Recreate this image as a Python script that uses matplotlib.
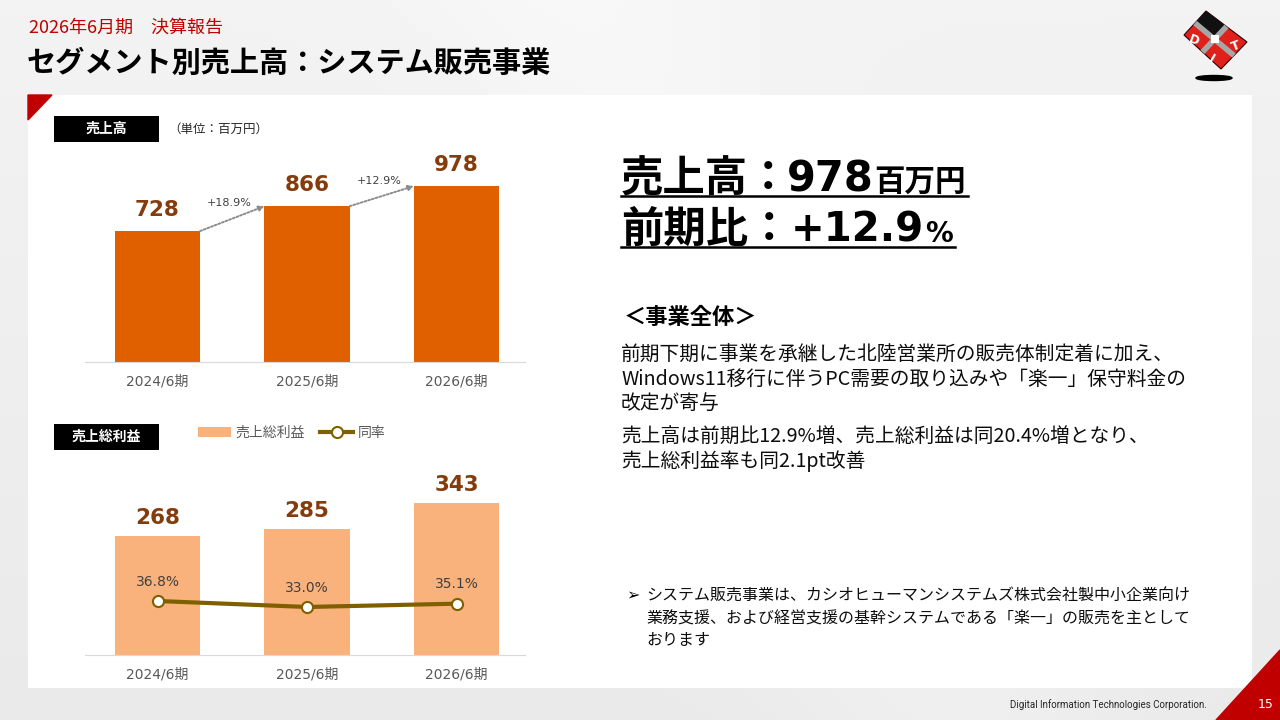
import matplotlib
matplotlib.use('Agg')
import matplotlib.pyplot as plt
import numpy as np
from matplotlib.patches import Rectangle, Polygon, Ellipse

plt.rcParams['font.family'] = ['Noto Sans CJK JP', 'DejaVu Sans']

# ---------------- data ----------------
categories = ['2024/6期', '2025/6期', '2026/6期']
sales = [728, 866, 978]
sales_growth = ['+18.9%', '+12.9%']
gross_profit = [268, 285, 343]
gross_margin = [36.8, 33.0, 35.1]

W, H = 1280, 720
NUMF = ['DejaVu Sans', 'Noto Sans CJK JP']
JP = ['Noto Sans CJK JP', 'DejaVu Sans']

fig = plt.figure(figsize=(12.8, 7.2), dpi=100)
bg = fig.add_axes([0, 0, 1, 1], zorder=0)
bg.set_xlim(0, W)
bg.set_ylim(H, 0)
bg.axis('off')

# background gradient
yy, xx = np.mgrid[0:1:90j, 0:1:160j]
g = 0.915 + 0.035 * (1 - yy) + 0.02 * np.exp(-((xx - 0.45 - 0.3 * yy) ** 2) / 0.02)
bg.imshow(g, cmap='gray', vmin=0, vmax=1, extent=[0, W, H, 0], aspect='auto', zorder=0)

# white panel + corner triangles
bg.add_patch(Rectangle((28, 95), 1224, 593, facecolor='white', edgecolor='none', zorder=1))
bg.add_patch(Polygon([(28, 95), (52, 95), (28, 120)], closed=True, color='#C00000', zorder=2))
bg.add_patch(Polygon([(1216, 720), (1280, 650), (1280, 720)], closed=True, color='#C00000', zorder=2))

# header
bg.text(29, 28, '2026年6月期　決算報告', color='#C00000', fontsize=13, va='center', ha='left', zorder=3)
bg.text(27, 63, 'セグメント別売上高：システム販売事業', color='black', fontsize=21,
        fontweight='bold', va='center', ha='left', zorder=3)

# footer
bg.text(1207, 705, 'Digital Information Technologies Corporation.', ha='right', va='center',
        fontsize=7, color='#262626', family=['Roboto', 'DejaVu Sans'], zorder=3)
bg.text(1266, 704, '15', ha='center', va='center', fontsize=9, color='white', zorder=3,
        family=['DejaVu Sans'])

# logo
corners = np.array([(1184, 35), (1206, 11), (1247, 42), (1221, 69)], dtype=float)
bg.add_patch(Polygon(corners, closed=True, facecolor='#E0201B', edgecolor='#300', lw=0.8, zorder=3))
c = corners.mean(axis=0)
m = [(corners[i] + corners[(i + 1) % 4]) / 2 for i in range(4)]
bg.add_patch(Polygon([corners[1], m[1], c, m[0]], closed=True, facecolor='#111111', zorder=4))
bg.plot([m[0][0], m[2][0]], [m[0][1], m[2][1]], color='#A6A6A6', lw=4, zorder=5, solid_capstyle='butt')
bg.plot([m[1][0], m[3][0]], [m[1][1], m[3][1]], color='#A6A6A6', lw=4, zorder=5, solid_capstyle='butt')
bg.add_patch(Rectangle((c[0] - 4, c[1] - 4), 8, 8, facecolor='white', zorder=6))
bg.text(1194, 40, 'D', color='white', fontsize=9, fontweight='bold', rotation=-20, ha='center', va='center',
        family=['DejaVu Sans'], zorder=7)
bg.text(1236, 46, 'T', color='white', fontsize=9, fontweight='bold', rotation=20, ha='center', va='center',
        family=['DejaVu Sans'], zorder=7)
bg.text(1212, 59, 'I', color='white', fontsize=9, fontweight='bold', rotation=-30, ha='center', va='center',
        family=['DejaVu Sans'], zorder=7)
bg.add_patch(Ellipse((1214, 78), 36, 5, color='black', zorder=3))

# label boxes
for (yb, lab) in [(116, '売上高'), (424, '売上総利益')]:
    bg.add_patch(Rectangle((54, yb), 105, 26, facecolor='black', zorder=3))
    bg.text(106.5, yb + 13, lab, color='white', fontsize=10, fontweight='bold', ha='center', va='center', zorder=4)
bg.text(168, 129, '（単位：百万円）', color='#262626', fontsize=9, ha='left', va='center', zorder=4)

# ---------------- top chart: sales ----------------
x = np.arange(len(categories))
bw = 0.57
ax1 = fig.add_axes([85 / W, (H - 362) / H, 440 / W, 222 / H], zorder=5)
ax1.patch.set_alpha(0)
ax1.bar(x, sales, width=bw, color='#E06000', zorder=2)
ax1.set_xlim(-0.485, 2.458)
ax1.set_ylim(0, 1234)
for s in ['top', 'left', 'right']:
    ax1.spines[s].set_visible(False)
ax1.spines['bottom'].set_color('#D9D9D9')
ax1.set_yticks([])
ax1.set_xticks(x)
ax1.set_xticklabels(categories, family=NUMF, fontsize=10, color='#595959')
ax1.tick_params(axis='x', length=0, pad=9)
for xi, v in zip(x, sales):
    ax1.annotate(f'{v}', (xi, v), xytext=(0, 15), textcoords='offset points', ha='center', va='center',
                 fontsize=15.5, fontweight='bold', color='#843C0C', family=NUMF)
for i, lab in enumerate(sales_growth):
    ax1.annotate('', xy=(i + 1 - bw / 2, sales[i + 1]), xytext=(i + bw / 2, sales[i]),
                 arrowprops=dict(arrowstyle='-|>', linestyle=(0, (1, 1)), color='#8C8C8C', lw=1.4,
                                 mutation_scale=8, shrinkA=0, shrinkB=0))
    ax1.annotate(lab, (i + 0.5, (sales[i] + sales[i + 1]) / 2), xytext=(-2, 11), textcoords='offset points',
                 ha='center', va='center', fontsize=8, color='#404040', family=NUMF)

# ---------------- bottom chart: gross profit ----------------
ax2 = fig.add_axes([85 / W, (H - 655) / H, 440 / W, 205 / H], zorder=5)
ax2.patch.set_alpha(0)
bars = ax2.bar(x, gross_profit, width=bw, color='#FAB27C', zorder=2, label='売上総利益')
ax2.set_xlim(-0.485, 2.458)
ax2.set_ylim(0, 463)
for s in ['top', 'left', 'right']:
    ax2.spines[s].set_visible(False)
ax2.spines['bottom'].set_color('#D9D9D9')
ax2.set_yticks([])
ax2.set_xticks(x)
ax2.set_xticklabels(categories, family=NUMF, fontsize=10, color='#595959')
ax2.tick_params(axis='x', length=0, pad=9)
for xi, v in zip(x, gross_profit):
    ax2.annotate(f'{v}', (xi, v), xytext=(0, 13), textcoords='offset points', ha='center', va='center',
                 fontsize=15.5, fontweight='bold', color='#843C0C', family=NUMF)

ax3 = ax2.twinx()
ax3.set_ylim(2.6, 132.4)
ax3.axis('off')
line, = ax3.plot(x, gross_margin, color='#7F6000', lw=3, marker='o', ms=8, mfc='white',
                 mec='#7F6000', mew=1.5, zorder=3, label='同率')
for xi, v in zip(x, gross_margin):
    ax3.annotate(f'{v:.1f}%', (xi, v), xytext=(0, 14), textcoords='offset points', ha='center',
                 va='center', fontsize=10, color='#404040', family=NUMF)

fig.legend([bars, line], ['売上総利益', '同率'], loc='center left', bbox_to_anchor=(198 / W, 1 - 433 / H),
           ncol=2, frameon=False, fontsize=10, handlelength=2.4, handleheight=0.75, columnspacing=1.1,
           handletextpad=0.3, labelcolor='#595959', borderaxespad=0, borderpad=0)

# ---------------- right-side text ----------------
fig.canvas.draw()
renderer = fig.canvas.get_renderer()


def rich_line(x0, baseline, parts, underline_y):
    xc = x0
    for txt, size, fam, gap in parts:
        xc += gap
        t = bg.text(xc, baseline, txt, fontsize=size, fontweight='bold', family=fam, ha='left',
                    va='baseline', color='black', zorder=4)
        bb = t.get_window_extent(renderer)
        xc = bb.x1
    bg.plot([x0, xc + 2], [underline_y, underline_y], color='black', lw=1.8, zorder=4)


rich_line(621, 191, [('売上高：', 30.5, JP, 0), ('978', 30, NUMF, -4), ('百万円', 22, JP, 1)], 195.5)
rich_line(621, 242, [('前期比：', 30.5, JP, 0), ('+12.9', 29, NUMF, 0), ('%', 20, NUMF, 1)], 247)

bg.text(624, 318, '＜事業全体＞', fontsize=16, fontweight='bold', ha='left', va='center', zorder=4)
body = ['前期下期に事業を承継した北陸営業所の販売体制定着に加え、',
        'Windows11移行に伴うPC需要の取り込みや「楽一」保守料金の',
        '改定が寄与',
        '売上高は前期比12.9%増、売上総利益は同20.4%増となり、',
        '売上総利益率も同2.1pt改善']
body_y = [355, 379, 403, 437, 461]
for ty, tl in zip(body_y, body):
    bg.text(621, ty, tl, fontsize=14.2, ha='left', va='center', color='#0D0D0D', zorder=4)

bg.text(626, 596, '➢', fontsize=11.5, family=['DejaVu Sans'], ha='left', va='center', zorder=4)
note = ['システム販売事業は、カシオヒューマンシステムズ株式会社製中小企業向け',
        '業務支援、および経営支援の基幹システムである「楽一」の販売を主として',
        'おります']
for ty, tl in zip([596, 619, 641], note):
    bg.text(646, ty, tl, fontsize=11.5, ha='left', va='center', color='#0D0D0D', zorder=4)

fig.savefig('out.png', dpi=100)
